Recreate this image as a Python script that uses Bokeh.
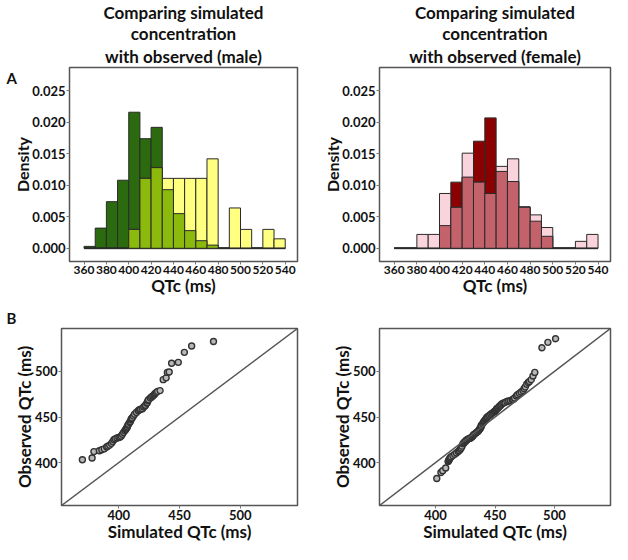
import numpy as np
from bokeh.plotting import figure
from bokeh.layouts import row, column
from bokeh.models import Range1d, FixedTicker, PrintfTickFormatter, Title, Label, Slope
from bokeh.embed import file_html
from bokeh.resources import INLINE

# ---------------- data ----------------
bin_edges = [360, 370, 380, 390, 400, 410, 420, 430, 440, 450, 460, 470, 480, 490, 500, 510, 520, 530, 540]
hist_xticks = [360, 380, 400, 420, 440, 460, 480, 500, 520, 540]
density_ticks = [0.0, 0.005, 0.010, 0.015, 0.020, 0.025]

male_sim_density = [0.0003, 0.0032, 0.0074, 0.0108, 0.0216, 0.0174, 0.0192, 0.0093, 0.0055, 0.0028, 0.0012, 0.0005, 0, 0, 0, 0, 0, 0]
male_obs_density = [0, 0, 0, 0, 0.0030, 0.0111, 0.0128, 0.0111, 0.0111, 0.0111, 0.0111, 0.0142, 0, 0.0064, 0.0030, 0, 0.0030, 0.0015]
female_sim_density = [0, 0, 0, 0, 0.0036, 0.0105, 0.0113, 0.0170, 0.0207, 0.0122, 0.0106, 0.0065, 0.0043, 0.0019, 0, 0, 0, 0]
female_obs_density = [0, 0, 0.0022, 0.0022, 0.0087, 0.0065, 0.0151, 0.0105, 0.0087, 0.0130, 0.0142, 0.0066, 0.0053, 0.0033, 0, 0, 0.0011, 0.0022]

qq_ticks = [400, 450, 500]

male_obs_q = [403, 405, 412, 413, 414, 415, 417, 418, 419,
              421, 423, 425, 426, 427, 427.5, 428, 429,
              431, 433, 435, 436, 437, 438, 439,
              441, 442, 444, 445, 447, 448, 449,
              451, 453, 455, 457, 458, 458.5, 459,
              461, 462, 463, 465, 466, 468, 469,
              471, 472, 473, 474, 475, 476, 477, 478, 479,
              491, 493, 499, 499.5, 509, 510, 521, 528, 533]
male_sim_q = [370, 378, 379.5, 384, 386, 388, 390, 391, 392.5,
              394, 395, 396, 397, 398.5, 400, 401, 402,
              403, 404, 405, 405.5, 406, 406.5, 407,
              407.5, 408, 409, 409.5, 410, 410.5, 411,
              412, 413, 414.5, 416, 417, 418, 419.5,
              420.5, 421.5, 422, 423, 423.5, 424, 424.5,
              426, 427, 428, 429, 429.5, 430, 431, 432, 434,
              436.6, 439, 440, 441.5, 443.5, 449, 454, 460, 478]

female_obs_q = [382.5, 389, 391, 394,
                401, 402, 403, 404, 405, 406, 407.5, 409,
                410.5, 412, 413, 414.5, 416, 418,
                420.5, 421, 422, 422.5, 423, 424, 424.5, 425, 426, 426.5, 427, 428, 428.5, 429.5,
                430.5, 431.5, 432.5, 433.5, 434.5, 435.5, 436.5, 437.5, 438.5, 439.5,
                441, 442.5, 444, 445, 446, 447, 448, 449,
                450, 451, 452, 453, 454, 455, 456, 456.5, 457, 458, 459, 459.5,
                460, 461, 462, 463, 464, 465, 465.5, 466, 467, 467.5, 468, 469, 469.5,
                471, 473, 474.5, 476, 477.5, 479,
                481, 483, 486, 488, 489,
                491, 495, 499,
                526, 532, 536]
female_sim_q = [401, 404.5, 406, 408.5,
                410.5, 411, 411.3, 411.7, 412.3, 413, 414.5, 416,
                417.5, 419, 420, 420.8, 421.5, 422.3,
                423, 423.5, 424, 424.5, 425, 425.5, 426, 426.5, 427.5, 428.5, 429.5, 430.5, 431, 431.5,
                432, 433, 434, 435, 436, 436.5, 437, 437.5, 438, 438.3,
                438.5, 439.5, 440.2, 440.8, 441.3, 442, 442.5, 443,
                443.5, 444.5, 445.5, 446.5, 447.5, 448.5, 449.5, 450, 450.5, 451, 451.5, 452,
                452.5, 453.3, 454, 454.8, 455.5, 456.5, 457.5, 458.5, 460, 461.5, 463, 464.5, 465.5,
                466.5, 468, 469, 470.5, 472, 473.5,
                474.5, 475.5, 476.7, 478, 479,
                480.5, 482, 483.5,
                489.5, 494.5, 501]

title_male = ["Comparing simulated", "concentration", "with observed (male)"]
title_female = ["Comparing simulated", "concentration", "with observed (female)"]

FONT = "Lato"
OUTLINE = "#2a2a2a"


def style_axes(p, xticks, yticks, xlabel, ylabel, yfmt=None, tick_size="12px", ytick_size="12px",
               xlabel_size="16px", ylabel_size="16px"):
    p.xgrid.visible = False
    p.ygrid.visible = False
    p.outline_line_color = "#555555"
    p.outline_line_width = 1.5
    p.outline_line_alpha = 1.0
    p.xaxis.ticker = FixedTicker(ticks=xticks)
    p.yaxis.ticker = FixedTicker(ticks=yticks)
    if yfmt is not None:
        p.yaxis.formatter = PrintfTickFormatter(format=yfmt)
    for ax in p.axis:
        ax.axis_line_color = None
        ax.major_tick_in = 0
        ax.major_tick_out = 3
        ax.major_tick_line_color = "#777777"
        ax.minor_tick_line_color = None
        ax.major_label_text_font = FONT
        ax.major_label_text_font_style = "bold"
        ax.major_label_text_color = "#111111"
        ax.axis_label_text_font = FONT
        ax.axis_label_text_font_style = "bold"
        ax.axis_label_text_color = "#111111"
    p.xaxis.major_label_standoff = 1
    p.xaxis.axis_label_standoff = -2
    p.yaxis.major_label_standoff = 1
    p.yaxis.axis_label_standoff = -3
    p.xaxis.major_label_text_font_size = tick_size
    p.yaxis.major_label_text_font_size = ytick_size
    p.xaxis.axis_label = xlabel
    p.yaxis.axis_label = ylabel
    p.xaxis.axis_label_text_font_size = xlabel_size
    p.yaxis.axis_label_text_font_size = ylabel_size


def panel_letter(p, letter, ytop, baseline, yoff):
    p.add_layout(Label(x=6, y=ytop, x_units="screen", text=letter, text_baseline=baseline,
                       y_offset=yoff, text_font=FONT, text_font_size="15px", text_font_style="bold",
                       text_color="#111111"), "left")


def make_hist(sim, obs, c_sim, c_obs, c_both, titles, width, bl, br, letter=None):
    p = figure(width=width, height=298, title=None,
               x_range=Range1d(347, 551), y_range=Range1d(-0.0021, 0.0287),
               output_backend="svg", toolbar_location=None,
               min_border_left=bl, min_border_right=br, min_border_top=52, min_border_bottom=30)
    left = bin_edges[:-1]
    right = bin_edges[1:]
    both = np.minimum(np.array(sim), np.array(obs))
    p.line(bin_edges, [0] * len(bin_edges), line_color="#666666", line_width=2)
    p.quad(left=left, right=right, bottom=0, top=sim, fill_color=c_sim, line_color=OUTLINE, line_width=1)
    p.quad(left=left, right=right, bottom=0, top=obs, fill_color=c_obs, line_color=OUTLINE, line_width=1)
    p.quad(left=left, right=right, bottom=0, top=both, fill_color=c_both, line_color=OUTLINE, line_width=1)
    style_axes(p, hist_xticks, density_ticks, "QTc (ms)", "Density", yfmt="%.3f",
               tick_size="12px", ytick_size="13px", xlabel_size="17px", ylabel_size="16px")
    for i, line in enumerate(reversed(titles)):
        p.add_layout(Title(text=line, align="center", text_font=FONT, text_font_size="17px",
                           text_font_style="bold", text_color="#111111",
                           standoff=2 if i == 0 else -2), "above")
    if letter:
        panel_letter(p, letter, 0.0287, "top", -1)
    return p


def make_qq(sim_q, obs_q, width, bl, br, letter=None):
    p = figure(width=width, height=246, title=None,
               x_range=Range1d(352.8, 547.2), y_range=Range1d(352.8, 547.2),
               output_backend="svg", toolbar_location=None,
               min_border_left=bl, min_border_right=br, min_border_top=30, min_border_bottom=30)
    p.add_layout(Slope(gradient=1, y_intercept=0, line_color="#555555", line_width=1.5))
    p.scatter(sim_q, obs_q, marker="circle", size=6, line_color="#333333", line_width=1.4,
              fill_color="#b8b8b8")
    style_axes(p, qq_ticks, qq_ticks, "Simulated QTc (ms)", "Observed QTc (ms)",
               tick_size="13px", ytick_size="13px", xlabel_size="17px", ylabel_size="17px")
    if letter:
        panel_letter(p, letter, 547.2, "bottom", 2)
    return p


h1 = make_hist(male_sim_density, male_obs_density, "#2b6a0e", "#ffff80", "#8cba0c", title_male, 312, 59, 15, "A")
h2 = make_hist(female_sim_density, female_obs_density, "#8b0000", "#fad4dc", "#c4626c", title_female, 300, 67, 2)
q1 = make_qq(male_sim_q, male_obs_q, 312, 59, 15, "B")
q2 = make_qq(female_sim_q, female_obs_q, 300, 67, 2)

layout = column(row(h1, h2), row(q1, q2))

with open("out.html", "w") as f:
    f.write(file_html(layout, INLINE))
